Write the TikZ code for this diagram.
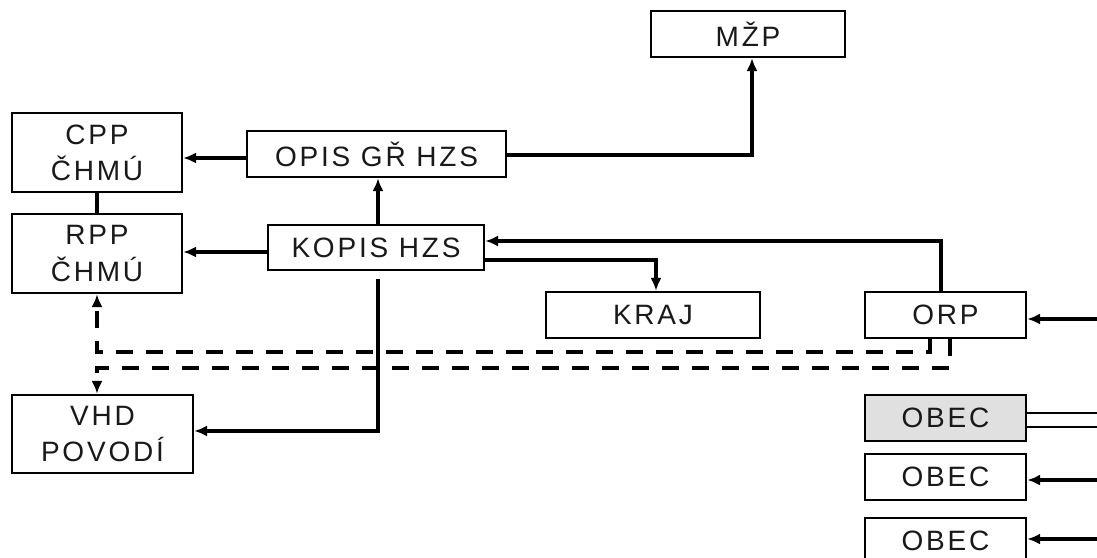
\documentclass[tikz,border=0pt]{standalone}
\usepackage{fontspec}
\setmainfont{Liberation Sans}
\newfontfamily\boxfont[LetterSpace=10]{Liberation Sans}
\usetikzlibrary{arrows.meta}
\definecolor{obecgray}{RGB}{224,224,224}
\tikzset{
  box/.style={draw=black, line width=2.2pt, inner sep=0pt, align=center,
    font=\boxfont\fontsize{28}{36}\selectfont, text=black!90},
  conn/.style={line width=3.6pt},
  tip/.style={-{Latex[length=13pt,width=11pt]}},
  arr/.style={conn, tip},
  dsh/.style={line width=3.8pt, dash pattern=on 17pt off 13pt, tip}
}
\begin{document}
\begin{tikzpicture}[x=1pt,y=-1pt]
\fill[white] (0,0) rectangle (1097,557);
\clip (0,0) rectangle (1097,557);
% boxes
\node[box, minimum width=194pt, minimum height=46pt] (mzp) at (748,34) {MŽP};
\node[box, minimum width=170pt, minimum height=79pt] (cpp) at (97,152.5) {CPP\\ČHMÚ};
\node[box, minimum width=259pt, minimum height=46pt] (opis) at (376.5,154) {OPIS GŘ HZS};
\node[box, minimum width=170pt, minimum height=79pt] (rpp) at (97,253.5) {RPP\\ČHMÚ};
\node[box, minimum width=216pt, minimum height=45pt] (kopis) at (376,247.5) {KOPIS HZS};
\node[box, minimum width=214pt, minimum height=46pt] (kraj) at (653,315) {KRAJ};
\node[box, minimum width=161pt, minimum height=46pt] (orp) at (945.5,315) {ORP};
\node[box, minimum width=181pt, minimum height=78pt] (vhd) at (102.5,434) {VHD\\POVODÍ};
\node[box, fill=obecgray, minimum width=161pt, minimum height=46pt] (obec1) at (945.5,418) {OBEC};
\node[box, minimum width=161pt, minimum height=46pt] (obec2) at (945.5,477) {OBEC};
\node[box, minimum width=161pt, minimum height=46pt] (obec3) at (945.5,541) {OBEC};
% free ends at the right edge
\coordinate (eorp) at (1100,319);
\coordinate (eob1a) at (1100,413);
\coordinate (eob1b) at (1100,427);
\coordinate (eob2) at (1100,480);
\coordinate (eob3) at (1100,539);
% solid connectors
\draw[arr] (opis.west |- 0,158) -- (cpp.east |- 0,158);
\draw[arr] (opis.east |- 0,155) -| (752,57 |- mzp.south);
\draw[arr] (378,0 |- kopis.north) -- (378,0 |- opis.south);
\draw[conn] (cpp.south) -- (rpp.north);
\draw[arr] (kopis.west |- 0,252) -- (rpp.east |- 0,252);
\draw[arr] (941,0 |- orp.north) |- (kopis.east |- 0,241);
\draw[arr] (kopis.east |- 0,260) -| (656,0 |- kraj.north);
\draw[arr] (378,279) |- (vhd.east |- 0,431);
% dashed connectors
\draw[dsh] (930,0 |- orp.south) |- (97,352) -- (rpp.south);
\draw[dsh] (950,0 |- orp.south) |- (97,368) -- (97,0 |- vhd.north);
% right edge connectors
\draw[arr] (eorp) -- (orp.east |- eorp);
\draw[line width=2.6pt] (eob1a) -- (obec1.east |- eob1a);
\draw[line width=2.6pt] (eob1b) -- (obec1.east |- eob1b);
\draw[arr] (eob2) -- (obec2.east |- eob2);
\draw[arr] (eob3) -- (obec3.east |- eob3);
\end{tikzpicture}
\end{document}
